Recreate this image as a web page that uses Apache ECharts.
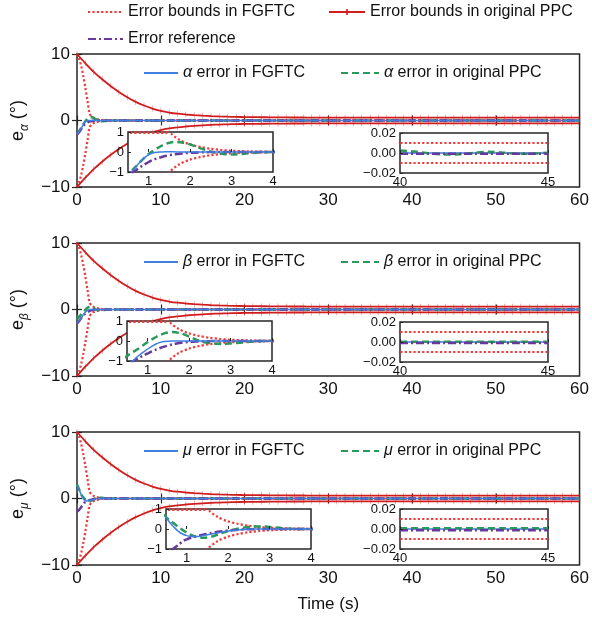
<!DOCTYPE html>
<html>
<head>
<meta charset="utf-8">
<script src="https://cdn.jsdelivr.net/npm/echarts@6/dist/echarts.min.js"></script>
<style>
  html, body { margin: 0; padding: 0; background: #fff; }
  #chart { width: 592px; height: 621px; }
</style>
</head>
<body>
<div id="chart"></div>
<script>
// ---- data ----
// error bounds of the original PPC (marker every second)
var tPpc = [0,1,2,3,4,5,6,7,8,9,10,11,12,13,14,15,16,17,18,19,20,21,22,23,24,25,26,27,28,29,30,
  31,32,33,34,35,36,37,38,39,40,41,42,43,44,45,46,47,48,49,50,51,52,53,54,55,56,57,58,59,60];
var ppcUpper = [10,8.6,7.3,6.2,5.2,4.3,3.5,2.8,2.25,1.8,1.45,1.2,1.02,0.9,0.8,0.72,0.66,0.61,0.57,0.54,
  0.52,0.5,0.49,0.48,0.47,0.46,0.45,0.45,0.44,0.44,0.43,0.43,0.43,0.43,0.43,0.43,0.43,0.43,0.43,0.43,
  0.43,0.43,0.43,0.43,0.43,0.43,0.43,0.43,0.43,0.43,0.43,0.43,0.43,0.43,0.43,0.43,0.43,0.43,0.43,0.43,0.43];
var ppcLower = [-10,-8.6,-7.3,-6.2,-5.2,-4.3,-3.5,-2.8,-2.25,-1.8,-1.45,-1.2,-1.02,-0.9,-0.8,-0.72,-0.66,-0.61,-0.57,-0.54,
  -0.52,-0.5,-0.49,-0.48,-0.47,-0.46,-0.45,-0.45,-0.44,-0.44,-0.43,-0.43,-0.43,-0.43,-0.43,-0.43,-0.43,-0.43,-0.43,-0.43,
  -0.43,-0.43,-0.43,-0.43,-0.43,-0.43,-0.43,-0.43,-0.43,-0.43,-0.43,-0.43,-0.43,-0.43,-0.43,-0.43,-0.43,-0.43,-0.43,-0.43,-0.43];

// error bounds of FGFTC
var tFg = [0,0.25,0.5,0.75,1,1.25,1.5,1.75,2,2.25,2.5,2.75,3,3.5,4,5,60];
var fgUpper = [10,9.3,8.2,6.7,4.9,3.0,1.05,0.6,0.38,0.25,0.16,0.1,0.06,0.025,0.012,0.01,0.01];
var fgLower = [-10,-9.3,-8.2,-6.7,-4.9,-3.0,-1.05,-0.6,-0.38,-0.25,-0.16,-0.1,-0.06,-0.025,-0.012,-0.01,-0.01];
// part of the FGFTC bound seen along the top edge of the zoomed insets
var tCap = [0.55,1.45];
var capUpper = [0.97,0.97];

// tracking errors, t = 0..4 s then settled
var tState = [0,0.25,0.5,0.6,0.7,0.8,0.9,1.0,1.1,1.2,1.3,1.4,1.6,1.8,2.0,2.2,2.4,2.6,2.8,3.0,3.3,3.6,4.0,60];
var alphaFg  = [-2.0,-1.7,-1.15,-0.95,-0.72,-0.47,-0.28,-0.13,-0.05,-0.01,0,0.01,0.01,0,0,0,0,0,0,0,0,0,0,0];
var alphaPpc = [-2.0,-1.6,-1.1,-0.92,-0.7,-0.48,-0.28,-0.1,0.05,0.18,0.3,0.4,0.5,0.48,0.38,0.22,0.08,-0.03,-0.1,-0.12,-0.09,-0.03,0,0];
var alphaRef = [-2.1,-1.75,-1.3,-1.05,-0.9,-0.75,-0.62,-0.5,-0.4,-0.32,-0.26,-0.2,-0.12,-0.07,-0.04,-0.02,-0.01,0,0,0,0,0,0,0];
var betaFg   = [-2.0,-1.7,-1.3,-1.08,-0.88,-0.7,-0.55,-0.4,-0.27,-0.15,-0.07,-0.02,0,0,0,0,0,0,0,0,0,0,0,0];
var betaPpc  = [-1.5,-1.1,-0.75,-0.6,-0.48,-0.35,-0.2,-0.05,0.08,0.2,0.3,0.38,0.45,0.38,0.22,0.04,-0.08,-0.13,-0.15,-0.12,-0.07,-0.02,0.01,0];
var betaRef  = [-2.1,-1.75,-1.3,-1.08,-0.95,-0.83,-0.72,-0.62,-0.52,-0.43,-0.35,-0.28,-0.17,-0.09,-0.04,-0.02,-0.01,0,0,0,0,0,0,0];
var muFg     = [2.0,1.3,0.6,0.3,0.08,-0.12,-0.25,-0.33,-0.37,-0.38,-0.37,-0.33,-0.25,-0.17,-0.1,-0.05,-0.02,0,0,0,0,0,0,0];
var muPpc    = [2.1,1.4,0.6,0.42,0.26,0.1,-0.05,-0.18,-0.3,-0.38,-0.42,-0.44,-0.38,-0.24,-0.1,0,0.08,0.12,0.13,0.1,0.04,0,0,0];
var muRef    = [-2.0,-1.7,-1.3,-1.1,-0.95,-0.8,-0.62,-0.52,-0.44,-0.38,-0.33,-0.28,-0.2,-0.13,-0.08,-0.05,-0.02,-0.01,0,0,0,0,0,0];

// steady state, 40..45 s
var tLate = [40,40.5,41,41.5,42,42.5,43,43.5,44,44.5,45];
var alphaFgLate  = [0,0,0,0,0,0,0,0,0,0,0];
var alphaPpcLate = [0.0025,0.0015,-0.0005,-0.0015,-0.0012,0.0002,0.0012,0.0003,-0.0008,-0.0006,0.0003];
var alphaRefLate = [-0.0008,-0.0008,-0.0008,-0.0008,-0.0008,-0.0008,-0.0008,-0.0008,-0.0008,-0.0008,-0.0008];
var betaFgLate   = [0,0,0,0,0,0,0,0,0,0,0];
var betaPpcLate  = [0.0003,0.0003,0.0003,0.0003,0.0003,0.0003,0.0003,0.0003,0.0003,0.0003,0.0003];
var betaRefLate  = [-0.001,-0.001,-0.001,-0.001,-0.001,-0.001,-0.001,-0.001,-0.001,-0.001,-0.001];
var muFgLate     = [0,0,0,0,0,0,0,0,0,0,0];
var muPpcLate    = [0.0008,0.0008,0.0008,0.0008,0.0008,0.0008,0.0008,0.0008,0.0008,0.0008,0.0008];
var muRefLate    = [-0.0012,-0.0012,-0.0012,-0.0012,-0.0012,-0.0012,-0.0012,-0.0012,-0.0012,-0.0012,-0.0012];

var greek = ['α','β','μ'];
var stateFg  = [alphaFg, betaFg, muFg];
var statePpc = [alphaPpc, betaPpc, muPpc];
var stateRef = [alphaRef, betaRef, muRef];
var lateFg  = [alphaFgLate, betaFgLate, muFgLate];
var latePpc = [alphaPpcLate, betaPpcLate, muPpcLate];
var lateRef = [alphaRefLate, betaRefLate, muRefLate];

var insetTicks = [1,2,3,4];

// ---- layout / style ----
var FONT = '"Liberation Sans", Arial, sans-serif';
var RED = '#d01c1c', RED_DOT = '#f23a3a', BLUE = '#3f7fe0', GREEN = '#28995a', PURPLE = '#67399c';
var INK = '#262626';
var mainTop = [54, 243, 432];
var leftPos = [[128, 132], [127, 321], [166, 509]];
var rightPos = [[400, 133], [400, 322], [400, 509]];

function pts(t, v) { return t.map(function (x, i) { return [x, v[i]]; }); }
function minus(v) { return String(v).replace('-', '\u2212'); }

var grids = [], xAxes = [], yAxes = [], series = [], legends = [];

function line(name, gi, t, v, color, type, width, z, extra) {
  var s = {
    name: name, type: 'line', xAxisIndex: gi, yAxisIndex: gi,
    data: pts(t, v), symbol: 'none', smooth: 0.3, color: color,
    lineStyle: { color: color, type: type, width: width },
    z: z, silent: true, animation: false
  };
  for (var k in extra) s[k] = extra[k];
  return s;
}

var DOT = [2.2, 2.2], DASH = [7, 4], DASHDOT = [8, 3, 2, 3];
var noMark = { opacity: 0 };

for (var p = 0; p < 3; p++) {
  var g = greek[p];
  var gm = 3 * p, gl = 3 * p + 1, gr = 3 * p + 2;

  // main panel
  grids[gm] = { left: 77, top: mainTop[p], width: 504, height: 133, show: true,
    borderColor: INK, borderWidth: 1.5, backgroundColor: 'transparent' };
  xAxes[gm] = { type: 'value', gridIndex: gm, min: 0, max: 60, interval: 10,
    axisLine: { show: false }, splitLine: { show: false },
    axisTick: { inside: true, length: 5, lineStyle: { color: INK, width: 1.2 } },
    axisLabel: { fontSize: 17, color: '#111', fontFamily: FONT, margin: 5 } };
  if (p === 2) {
    xAxes[gm].name = 'Time (s)';
    xAxes[gm].nameLocation = 'middle';
    xAxes[gm].nameGap = 31;
    xAxes[gm].nameTextStyle = { fontSize: 17, color: '#111', fontFamily: FONT };
  }
  yAxes[gm] = { type: 'value', gridIndex: gm, min: -10, max: 10, interval: 10,
    axisLine: { show: false }, splitLine: { show: false },
    axisTick: { inside: true, length: 5, lineStyle: { color: INK, width: 1.2 } },
    axisLabel: { fontSize: 17, color: '#111', fontFamily: FONT, margin: 7, formatter: minus },
    name: '{e|e}{s|' + g + '}{e| (°)}', nameLocation: 'middle', nameGap: 37,
    nameTextStyle: { fontFamily: FONT, color: '#111', rich: {
      e: { fontSize: 18, lineHeight: 24, fontFamily: FONT, color: '#111' },
      s: { fontSize: 12, lineHeight: 12, fontStyle: 'italic', verticalAlign: 'bottom', fontFamily: FONT, color: '#111' }
    } } };

  series.push(line('Error bounds in FGFTC', gm, tFg, fgUpper, RED_DOT, DOT, 2.2, 2));
  series.push(line('Error bounds in FGFTC', gm, tFg, fgLower, RED_DOT, DOT, 2.2, 2));
  series.push(line(g + ' error in original PPC', gm, tState, statePpc[p], GREEN, DASH, 2.5, 2));
  series.push(line('Error reference', gm, tState, stateRef[p], PURPLE, DASHDOT, 2.5, 2));
  series.push(line(g + ' error in FGFTC', gm, tState, stateFg[p], BLUE, 'solid', 1.5, 2));
  var ppcOpt = { symbol: 'path://M0 0h2v10h-2z', symbolSize: [1.6, 6], symbolKeepAspect: true,
    showSymbol: true, showAllSymbol: true, itemStyle: { color: RED } };
  series.push(line('Error bounds in original PPC', gm, tPpc, ppcUpper, RED, 'solid', 1.8, 3, ppcOpt));
  series.push(line('Error bounds in original PPC', gm, tPpc, ppcLower, RED, 'solid', 1.8, 3, ppcOpt));

  // left inset, 0.5..4 s
  grids[gl] = { left: leftPos[p][0], top: leftPos[p][1], width: 145, height: 40, show: true,
    borderColor: INK, borderWidth: 1.5, backgroundColor: '#fff', z: 4 };
  xAxes[gl] = { type: 'value', gridIndex: gl, min: 0.5, max: 4, z: 6,
    axisLine: { show: false }, splitLine: { show: false },
    axisTick: { inside: true, length: 3, customValues: insetTicks, lineStyle: { color: INK } },
    axisLabel: { fontSize: 13, color: '#111', fontFamily: FONT, margin: 3, customValues: insetTicks } };
  yAxes[gl] = { type: 'value', gridIndex: gl, min: -1, max: 1, interval: 1, z: 6,
    axisLine: { show: false }, splitLine: { show: false },
    axisTick: { inside: true, length: 3, lineStyle: { color: INK } },
    axisLabel: { fontSize: 13, color: '#111', fontFamily: FONT, margin: 4, formatter: minus } };
  series.push(line('Error bounds in FGFTC', gl, tFg, fgUpper, RED_DOT, DOT, 2.2, 5));
  series.push(line('Error bounds in FGFTC', gl, tCap, capUpper, RED_DOT, DOT, 2.6, 5));
  series.push(line('Error bounds in FGFTC', gl, tFg, fgLower, RED_DOT, DOT, 2.2, 5));
  series.push(line(g + ' error in original PPC', gl, tState, statePpc[p], GREEN, DASH, 2.5, 5));
  series.push(line('Error reference', gl, tState, stateRef[p], PURPLE, DASHDOT, 2.5, 5));
  series.push(line(g + ' error in FGFTC', gl, tState, stateFg[p], BLUE, 'solid', 1.5, 5));

  // right inset, 40..45 s
  grids[gr] = { left: rightPos[p][0], top: rightPos[p][1], width: 148, height: 40, show: true,
    borderColor: INK, borderWidth: 1.5, backgroundColor: '#fff', z: 4 };
  xAxes[gr] = { type: 'value', gridIndex: gr, min: 40, max: 45, interval: 5, z: 6,
    axisLine: { show: false }, splitLine: { show: false },
    axisTick: { inside: true, length: 3, lineStyle: { color: INK } },
    axisLabel: { fontSize: 13, color: '#111', fontFamily: FONT, margin: 3, showMinLabel: true, showMaxLabel: true } };
  yAxes[gr] = { type: 'value', gridIndex: gr, min: -0.02, max: 0.02, interval: 0.02, z: 6,
    axisLine: { show: false }, splitLine: { show: false },
    axisTick: { inside: true, length: 3, lineStyle: { color: INK } },
    axisLabel: { fontSize: 13, color: '#111', fontFamily: FONT, margin: 4,
      formatter: function (v) { return minus(v.toFixed(2)); } } };
  series.push(line('Error bounds in FGFTC', gr, tFg, fgUpper, RED_DOT, DOT, 2.2, 5));
  series.push(line('Error bounds in FGFTC', gr, tFg, fgLower, RED_DOT, DOT, 2.2, 5));
  series.push(line(g + ' error in FGFTC', gr, tLate, lateFg[p], BLUE, 'solid', 1.5, 5));
  series.push(line(g + ' error in original PPC', gr, tLate, latePpc[p], GREEN, DASH, 2.5, 5));
  series.push(line('Error reference', gr, tLate, lateRef[p], PURPLE, DASHDOT, 2.5, 5));

  // panel legend
  var rich = { g: { fontStyle: 'italic', fontSize: 16, fontFamily: FONT, color: '#111' } };
  var fmt = function (name) { return '{g|' + name.charAt(0) + '}' + name.slice(1); };
  legends.push({ left: 143, top: mainTop[p] + 11, padding: 0, itemWidth: 34, itemHeight: 14,
    data: [g + ' error in FGFTC'], formatter: fmt, selectedMode: false, itemStyle: noMark,
    textStyle: { fontSize: 16, color: '#111', fontFamily: FONT, rich: rich } });
  legends.push({ left: 340, top: mainTop[p] + 11, padding: 0, itemWidth: 38, itemHeight: 14,
    data: [g + ' error in original PPC'], formatter: fmt, selectedMode: false, itemStyle: noMark,
    textStyle: { fontSize: 16, color: '#111', fontFamily: FONT, rich: rich } });
}

// mirrored ticks on top and right of the main panels
for (var q = 0; q < 3; q++) {
  xAxes.push({ type: 'value', gridIndex: 3 * q, position: 'top', min: 0, max: 60, interval: 10,
    axisLine: { show: false }, splitLine: { show: false }, axisLabel: { show: false },
    axisTick: { inside: true, length: 5, lineStyle: { color: INK, width: 1.2 } } });
  yAxes.push({ type: 'value', gridIndex: 3 * q, position: 'right', min: -10, max: 10, interval: 10,
    axisLine: { show: false }, splitLine: { show: false }, axisLabel: { show: false },
    axisTick: { inside: true, length: 5, lineStyle: { color: INK, width: 1.2 } } });
}

var topText = { fontSize: 16, color: '#111', fontFamily: FONT };
legends.push({ left: 87, top: 4, padding: 0, itemWidth: 35, itemHeight: 14, selectedMode: false,
  itemStyle: noMark, data: ['Error bounds in FGFTC'], textStyle: topText });
legends.push({ left: 329, top: 4, padding: 0, itemWidth: 36, itemHeight: 14, selectedMode: false,
  data: [{ name: 'Error bounds in original PPC', icon: 'path://M0 6.1h36v1.8h-36z M17.2 4h1.6v6h-1.6z' }],
  textStyle: topText });
legends.push({ left: 87, top: 31, padding: 0, itemWidth: 35, itemHeight: 14, selectedMode: false,
  itemStyle: noMark, data: ['Error reference'], textStyle: topText });

var chart = echarts.init(document.getElementById('chart'));
chart.setOption({
  animation: false,
  backgroundColor: '#fff',
  grid: grids,
  xAxis: xAxes,
  yAxis: yAxes,
  legend: legends,
  series: series
});
</script>
</body>
</html>
